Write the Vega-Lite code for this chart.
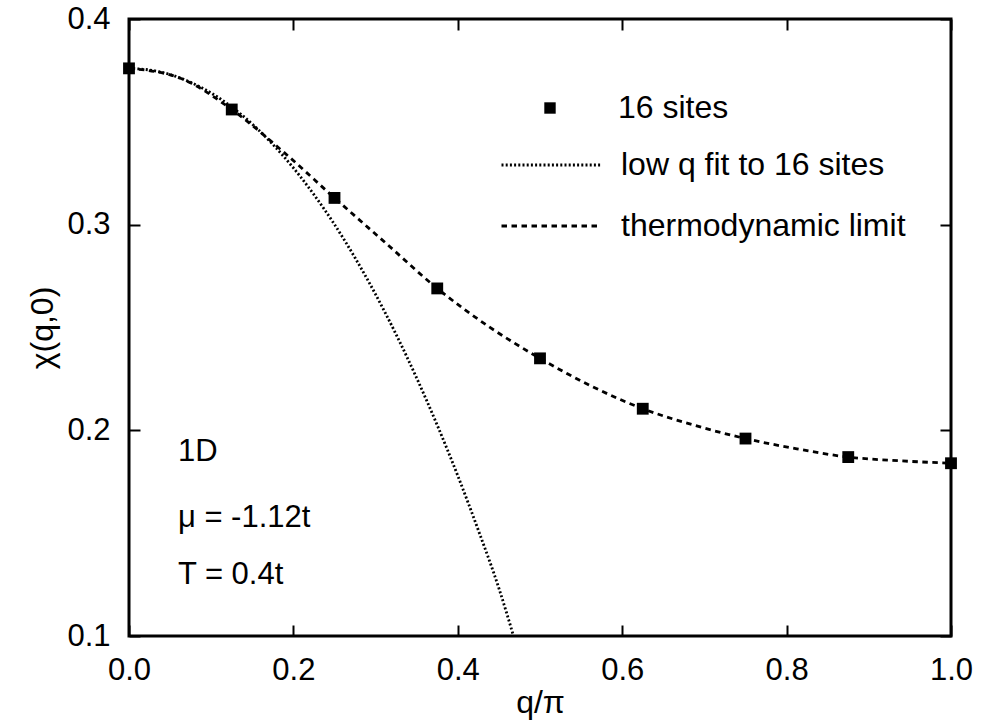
{
  "$schema": "https://vega.github.io/schema/vega-lite/v6.json",
  "width": 822,
  "height": 617,
  "autosize": {"type": "none"},
  "padding": {"left": 129, "top": 19, "right": 31, "bottom": 90},
  "background": "white",
  "config": {
    "view": {"stroke": "black", "strokeWidth": 3},
    "font": "Liberation Sans",
    "axis": {
      "domain": false,
      "grid": false,
      "tickColor": "black",
      "tickWidth": 2,
      "tickSize": -11,
      "labelColor": "black",
      "labelFont": "Liberation Sans",
      "labelFontSize": 31,
      "labelFlush": false,
      "labelOverlap": false,
      "titleFont": "Liberation Sans",
      "titleFontSize": 32,
      "titleFontWeight": "normal",
      "titleColor": "black"
    },
    "legend": {
      "padding": 0,
      "labelFont": "Liberation Sans",
      "labelFontSize": 32,
      "labelColor": "black",
      "labelLimit": 0,
      "symbolOpacity": 1
    }
  },
  "resolve": {"axis": {"x": "independent", "y": "independent"}},
  "layer": [
    {
      "data": {
        "values": [
          {"q": 0.0, "chi": 0.376, "series": "low q fit to 16 sites"},
          {"q": 0.025, "chi": 0.3752, "series": "low q fit to 16 sites"},
          {"q": 0.05, "chi": 0.373, "series": "low q fit to 16 sites"},
          {"q": 0.075, "chi": 0.3692, "series": "low q fit to 16 sites"},
          {"q": 0.1, "chi": 0.364, "series": "low q fit to 16 sites"},
          {"q": 0.125, "chi": 0.3572, "series": "low q fit to 16 sites"},
          {"q": 0.15, "chi": 0.3489, "series": "low q fit to 16 sites"},
          {"q": 0.175, "chi": 0.339, "series": "low q fit to 16 sites"},
          {"q": 0.2, "chi": 0.3276, "series": "low q fit to 16 sites"},
          {"q": 0.225, "chi": 0.3146, "series": "low q fit to 16 sites"},
          {"q": 0.25, "chi": 0.3001, "series": "low q fit to 16 sites"},
          {"q": 0.275, "chi": 0.2839, "series": "low q fit to 16 sites"},
          {"q": 0.3, "chi": 0.2661, "series": "low q fit to 16 sites"},
          {"q": 0.325, "chi": 0.2466, "series": "low q fit to 16 sites"},
          {"q": 0.35, "chi": 0.2254, "series": "low q fit to 16 sites"},
          {"q": 0.375, "chi": 0.2025, "series": "low q fit to 16 sites"},
          {"q": 0.4, "chi": 0.1779, "series": "low q fit to 16 sites"},
          {"q": 0.425, "chi": 0.1514, "series": "low q fit to 16 sites"},
          {"q": 0.45, "chi": 0.1232, "series": "low q fit to 16 sites"},
          {"q": 0.468, "chi": 0.0997, "series": "low q fit to 16 sites"},
          {"q": 0.0, "chi": 0.376, "series": "thermodynamic limit"},
          {"q": 0.0625, "chi": 0.3712, "series": "thermodynamic limit"},
          {"q": 0.125, "chi": 0.356, "series": "thermodynamic limit"},
          {"q": 0.1875, "chi": 0.3355, "series": "thermodynamic limit"},
          {"q": 0.25, "chi": 0.313, "series": "thermodynamic limit"},
          {"q": 0.3125, "chi": 0.291, "series": "thermodynamic limit"},
          {"q": 0.375, "chi": 0.269, "series": "thermodynamic limit"},
          {"q": 0.4375, "chi": 0.2505, "series": "thermodynamic limit"},
          {"q": 0.5, "chi": 0.235, "series": "thermodynamic limit"},
          {"q": 0.5625, "chi": 0.2215, "series": "thermodynamic limit"},
          {"q": 0.625, "chi": 0.2105, "series": "thermodynamic limit"},
          {"q": 0.6875, "chi": 0.2025, "series": "thermodynamic limit"},
          {"q": 0.75, "chi": 0.196, "series": "thermodynamic limit"},
          {"q": 0.8125, "chi": 0.191, "series": "thermodynamic limit"},
          {"q": 0.875, "chi": 0.187, "series": "thermodynamic limit"},
          {"q": 0.9375, "chi": 0.1852, "series": "thermodynamic limit"},
          {"q": 1.0, "chi": 0.184, "series": "thermodynamic limit"}
        ]
      },
      "mark": {"type": "line", "color": "black", "strokeWidth": 2.8, "clip": true, "interpolate": "monotone"},
      "encoding": {
        "x": {"field": "q", "type": "quantitative", "scale": {"domain": [0, 1], "nice": false, "zero": false},
              "axis": {"orient": "top", "labels": false, "title": null, "values": [0, 0.2, 0.4, 0.6, 0.8, 1.0]}},
        "y": {"field": "chi", "type": "quantitative", "scale": {"domain": [0.1, 0.4], "nice": false, "zero": false},
              "axis": {"orient": "right", "labels": false, "title": null, "values": [0.1, 0.2, 0.3, 0.4]}},
        "strokeDash": {
          "field": "series", "type": "nominal",
          "scale": {"domain": ["low q fit to 16 sites", "thermodynamic limit"], "range": [[2, 2.2], [5.5, 4.5]]},
          "legend": {
            "orient": "none", "legendX": 371, "legendY": 115.5, "title": null,
            "symbolType": "stroke", "symbolSize": 9801, "clipHeight": 61, "rowPadding": 0,
            "labelOffset": 19, "symbolStrokeColor": "black", "symbolStrokeWidth": 2.8
          }
        }
      }
    },
    {
      "data": {
        "values": [
          {"q": 0.0, "chi": 0.376, "series": "16 sites"},
          {"q": 0.125, "chi": 0.356, "series": "16 sites"},
          {"q": 0.25, "chi": 0.313, "series": "16 sites"},
          {"q": 0.375, "chi": 0.269, "series": "16 sites"},
          {"q": 0.5, "chi": 0.235, "series": "16 sites"},
          {"q": 0.625, "chi": 0.2105, "series": "16 sites"},
          {"q": 0.75, "chi": 0.196, "series": "16 sites"},
          {"q": 0.875, "chi": 0.187, "series": "16 sites"},
          {"q": 1.0, "chi": 0.184, "series": "16 sites"}
        ]
      },
      "mark": {"type": "point", "filled": true, "color": "black", "opacity": 1, "size": 140, "clip": false},
      "encoding": {
        "x": {"field": "q", "type": "quantitative",
              "axis": {"orient": "bottom", "title": "q/π", "values": [0, 0.2, 0.4, 0.6, 0.8, 1.0], "format": ".1f", "labelPadding": 30, "titlePadding": 2}},
        "y": {"field": "chi", "type": "quantitative",
              "axis": {"orient": "left", "title": "χ(q,0)", "values": [0.1, 0.2, 0.3, 0.4], "format": ".1f", "labelPadding": 30, "titlePadding": 7}},
        "shape": {
          "field": "series", "type": "nominal",
          "scale": {"domain": ["16 sites"], "range": ["square"]},
          "legend": {
            "orient": "none", "legendX": 405, "legendY": 73, "title": null,
            "symbolSize": 130, "labelOffset": 52, "symbolFillColor": "black", "symbolStrokeColor": "black"
          }
        }
      }
    },
    {
      "data": {"values": [{"label": "1D"}]},
      "mark": {"type": "text", "align": "left", "baseline": "middle", "fontSize": 31, "font": "Liberation Sans", "color": "black"},
      "encoding": {
        "x": {"datum": 0.0595, "type": "quantitative", "axis": null},
        "y": {"datum": 0.1895, "type": "quantitative", "axis": null},
        "text": {"field": "label"}
      }
    },
    {
      "data": {"values": [{"label": "μ = -1.12t"}]},
      "mark": {"type": "text", "align": "left", "baseline": "middle", "fontSize": 31, "font": "Liberation Sans", "color": "black"},
      "encoding": {
        "x": {"datum": 0.0595, "type": "quantitative", "axis": null},
        "y": {"datum": 0.1574, "type": "quantitative", "axis": null},
        "text": {"field": "label"}
      }
    },
    {
      "data": {"values": [{"label": "T = 0.4t"}]},
      "mark": {"type": "text", "align": "left", "baseline": "middle", "fontSize": 31, "font": "Liberation Sans", "color": "black"},
      "encoding": {
        "x": {"datum": 0.0595, "type": "quantitative", "axis": null},
        "y": {"datum": 0.1297, "type": "quantitative", "axis": null},
        "text": {"field": "label"}
      }
    }
  ]
}
